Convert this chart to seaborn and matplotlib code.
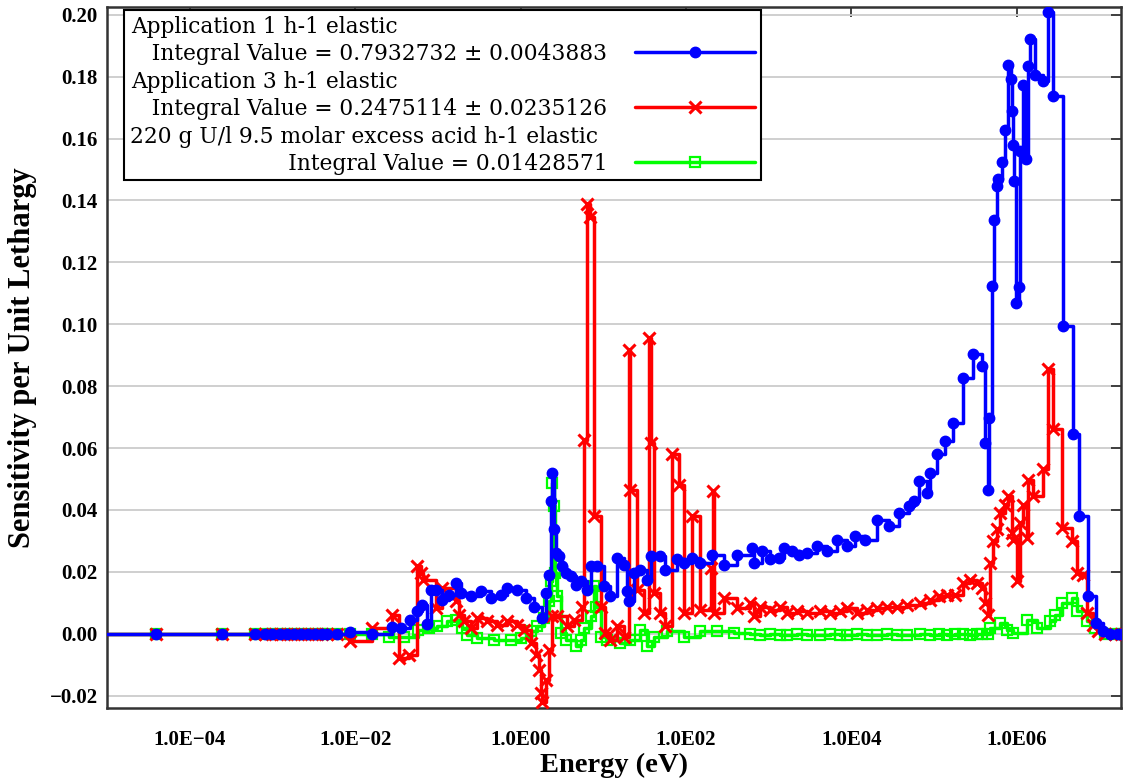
import numpy as np
import pandas as pd
import seaborn as sns
import matplotlib.pyplot as plt
from matplotlib.lines import Line2D
from matplotlib.offsetbox import TextArea
from matplotlib.ticker import NullLocator

# Sensitivity profiles (energy in eV, sensitivity per unit lethargy)
blue_energy = [1e-5, 3.9e-5, 2.45e-4, 6.1e-4, 8.1e-4, 9.8e-4, 1.23e-3, 1.49e-3, 1.81e-3, 2.2e-3,
               2.68e-3, 3.25e-3, 3.95e-3, 4.54e-3, 6.0e-3, 8.6e-3, 1.58e-2, 2.82e-2, 3.56e-2, 4.6e-2,
               5.65e-2, 6.5e-2, 7.47e-2, 8.2e-2, 9.4e-2, 0.113, 0.136, 0.164, 0.188, 0.249,
               0.329, 0.434, 0.573, 0.69, 0.912, 1.15, 1.45, 1.83, 2.0, 2.2,
               2.3, 2.41, 2.52, 2.68, 2.9, 3.19, 3.5, 4.02, 4.62, 5.3,
               6.4, 7.0, 8.4, 10.1, 12.2, 14.7, 17.7, 19.4, 20.3, 23.4,
               28.1, 33.9, 37.2, 49.1, 56.4, 78.1, 93.8, 118.5, 149, 207,
               285, 414, 628, 657, 830, 1045, 1318, 1514, 1910, 2296,
               2899, 3828, 5055, 6677, 8823, 1.11e4, 1.47e4, 2.03e4, 2.81e4, 3.71e4,
               4.9e4, 5.62e4, 6.46e4, 8.16e4, 8.95e4, 1.08e5, 1.36e5, 1.71e5, 2.26e5, 2.98e5,
               3.77e5, 4.13e5, 4.53e5, 4.66e5, 4.98e5, 5.35e5, 5.72e5, 5.98e5, 6.57e5, 7.19e5,
               7.89e5, 8.5e5, 8.67e5, 9.06e5, 9.24e5, 9.77e5, 1.07e6, 1.09e6, 1.2e6, 1.29e6,
               1.38e6, 1.42e6, 1.66e6, 2.09e6, 2.4e6, 2.76e6, 3.58e6, 4.73e6, 5.69e6, 7.3e6,
               9.05e6, 1.11e7, 1.34e7, 1.67e7, 1.8e7]
blue_sens = [0, 0, 0, 0, 0, 0, 0, 0, 0, 0,
             0, 0, 0, 0, 0, 0.0005, 0.0, 0.0022, 0.0018, 0.0045,
             0.0072, 0.0094, 0.003, 0.0142, 0.0142, 0.011, 0.0126, 0.0164, 0.0132, 0.0121,
             0.0137, 0.0116, 0.0126, 0.0148, 0.0142, 0.0116, 0.0088, 0.0051, 0.0132, 0.019,
             0.0428, 0.052, 0.0337, 0.026, 0.025, 0.0218, 0.0196, 0.0185, 0.0159, 0.0169,
             0.0142, 0.0218, 0.0218, 0.0153, 0.0121, 0.0245, 0.0223, 0.0137, 0.0105, 0.0196,
             0.0207, 0.0175, 0.025, 0.025, 0.0207, 0.024, 0.0229, 0.0245, 0.0229, 0.0256,
             0.0223, 0.0256, 0.0277, 0.0229, 0.0267, 0.024, 0.0245, 0.0277, 0.0267, 0.0256,
             0.0261, 0.0283, 0.0267, 0.0304, 0.0283, 0.0315, 0.0304, 0.0369, 0.0347, 0.0391,
             0.0412, 0.0428, 0.0493, 0.0455, 0.052, 0.058, 0.0622, 0.0682, 0.0827, 0.0903,
             0.0865, 0.0617, 0.0466, 0.0698, 0.1124, 0.1338, 0.1448, 0.1469, 0.1525, 0.1629,
             0.1838, 0.1793, 0.169, 0.1579, 0.1464, 0.107, 0.1119, 0.1561, 0.1772, 0.1534,
             0.1836, 0.1922, 0.1804, 0.1787, 0.2009, 0.1739, 0.0995, 0.0644, 0.038, 0.0121,
             0.0035, 0.0008, 0, 0, 0]

red_energy = [1e-5, 3.9e-5, 2.45e-4, 6.1e-4, 8.1e-4, 9.8e-4, 1.23e-3, 1.49e-3, 1.81e-3, 2.2e-3,
              2.68e-3, 3.25e-3, 3.95e-3, 4.54e-3, 6.0e-3, 8.6e-3, 1.58e-2, 2.82e-2, 3.39e-2, 4.48e-2,
              5.55e-2, 6.2e-2, 6.6e-2, 9.4e-2, 0.113, 0.164, 0.18, 0.207, 0.249, 0.3,
              0.396, 0.523, 0.69, 0.912, 1.1, 1.32, 1.52, 1.66, 1.74, 1.83,
              2.0, 2.2, 2.41, 2.77, 3.66, 4.4, 5.56, 5.82, 6.4, 6.81,
              7.68, 9.25, 10.6, 12.2, 14.7, 17.7, 20.3, 21.3, 25.7, 30.8,
              35.4, 37.7, 40.7, 49.1, 56.4, 68, 81.6, 93.8, 118.5, 149,
              200, 209, 216, 285, 414, 600, 657, 792, 1045, 1380,
              1663, 2198, 2899, 4200, 5546, 7325, 8823, 1.165e4, 1.54e4, 2.03e4,
              2.68e4, 3.54e4, 4.68e4, 6.78e4, 8.95e4, 1.13e5, 1.42e5, 1.79e5, 2.26e5, 2.72e5,
              3.28e5, 3.77e5, 4.13e5, 4.53e5, 4.75e5, 5.2e5, 5.72e5, 6.27e5, 7.19e5, 7.89e5,
              8.67e5, 9.06e5, 1.01e6, 1.09e6, 1.2e6, 1.32e6, 1.38e6, 1.58e6, 2.09e6, 2.4e6,
              2.76e6, 3.48e6, 4.6e6, 5.29e6, 6.35e6, 6.98e6, 8.4e6, 9.64e6, 1.16e7, 1.53e7,
              1.8e7]
red_sens = [0, 0, 0, 0, 0, 0, 0, 0, 0, 0,
            0, 0, 0, 0, 0, -0.0025, 0.0017, 0.0061, -0.0079, -0.0068,
            0.0218, 0.0196, 0.0175, 0.0083, 0.0148, 0.0105, 0.0061, 0.004, 0.0018, 0.0051,
            0.004, 0.0029, 0.004, 0.0029, 0.0013, -0.003, -0.0068, -0.0117, -0.0192, -0.0219,
            -0.0149, -0.0052, 0.0056, 0.0056, 0.0024, 0.0045, 0.0088, 0.0625, 0.1388, 0.1346,
            0.038, 0.0088, 0.0002, -0.0019, 0.0024, -0.0009, 0.0916, 0.0466, 0.0142, 0.0067,
            0.0955, 0.0617, 0.0132, 0.0067, 0.0024, 0.058, 0.0482, 0.0067, 0.038, 0.0078,
            0.0213, 0.046, 0.0067, 0.0116, 0.0083, 0.0099, 0.0056, 0.0088, 0.0078, 0.0088,
            0.0067, 0.0072, 0.0067, 0.0072, 0.0067, 0.0072, 0.0083, 0.0067, 0.0078, 0.0083,
            0.0088, 0.0088, 0.0094, 0.0099, 0.011, 0.0121, 0.0126, 0.0126, 0.0164, 0.0175,
            0.0164, 0.0148, 0.0099, 0.0061, 0.0229, 0.0299, 0.0337, 0.0391, 0.0417, 0.0444,
            0.0326, 0.0304, 0.0169, 0.0358, 0.0417, 0.031, 0.0498, 0.0444, 0.0531, 0.0854,
            0.066, 0.0342, 0.0299, 0.0196, 0.0191, 0.0067, 0.0029, 0.0008, 0, 0,
            0]

green_energy = [1e-5, 3.9e-5, 2.45e-4, 6.1e-4, 8.1e-4, 9.8e-4, 1.23e-3, 1.49e-3, 1.81e-3, 2.2e-3,
                2.68e-3, 3.25e-3, 3.95e-3, 4.54e-3, 6.0e-3, 8.6e-3, 1.58e-2, 2.56e-2, 3.9e-2, 5.7e-2,
                7.8e-2, 9.86e-2, 0.13, 0.164, 0.198, 0.227, 0.3, 0.476, 0.756, 1.0,
                1.32, 1.59, 1.91, 2.2, 2.3, 2.41, 2.52, 2.64, 2.77, 3.04,
                3.5, 4.62, 5.3, 5.82, 7.0, 7.68, 8.05, 9.25, 11.1, 16.1,
                21.3, 28.1, 33.9, 40.7, 58.4, 93.8, 149, 237, 376, 600,
                792, 1045, 1380, 1663, 2198, 2899, 4200, 5546, 7325, 8823,
                1.165e4, 1.54e4, 2.03e4, 2.68e4, 3.54e4, 4.68e4, 6.78e4, 8.95e4, 1.13e5, 1.42e5,
                1.79e5, 2.26e5, 2.72e5, 3.28e5, 3.77e5, 4.53e5, 4.75e5, 6.27e5, 7.55e5, 9.06e5,
                1.32e6, 1.74e6, 2.52e6, 2.89e6, 3.48e6, 4.6e6, 5.29e6, 6.98e6, 8.8e6, 1.16e7,
                1.53e7, 1.8e7]
green_sens = [0, 0, 0, 0, 0, 0, 0, 0, 0, 0,
              0, 0, 0, 0, 0, 0, 0, -0.0009, -0.001, 0.0013,
              0.0018, 0.0024, 0.004, 0.0045, 0.0018, -0.0003, -0.0014, -0.0019, -0.0019, -0.0014,
              0.0008, 0.0024, 0.0051, 0.0105, 0.0169, 0.0488, 0.0412, 0.0196, 0.0121, 0.0002,
              -0.0019, -0.0041, -0.0019, 0.0018, 0.0056, 0.0153, 0.0088, -0.0009, -0.0019, -0.003,
              -0.0019, 0.0013, -0.0041, -0.0009, 0.0008, -0.0009, 0.0008, 0.0008, 0.0002, -0.0002,
              -0.0003, -0.0002, -0.0003, -0.0003, -0.0002, -0.0003, -0.0003, -0.0002, -0.0003, -0.0003,
              -0.0002, -0.0003, -0.0003, -0.0002, -0.0003, -0.0003, -0.0002, -0.0003, -0.0002, -0.0003,
              -0.0002, -0.0002, -0.0003, -0.0002, -0.0002, -0.0001, 0.0018, 0.0035, 0.0013, 0.0002,
              0.0045, 0.0018, 0.004, 0.0061, 0.0099, 0.0116, 0.0072, 0.004, 0.0018, 0,
              0, 0]

series_names = ["Application 1 h-1 elastic",
                "Application 3 h-1 elastic",
                "220 g U/l 9.5 molar excess acid h-1 elastic"]
integral_texts = ["Integral Value = 0.7932732 \u00b1 0.0043883",
                  "Integral Value = 0.2475114 \u00b1 0.0235126",
                  "Integral Value = 0.01428571"]
integral_indent = [3, 3, 23]

xtick_values = [1e-4, 1e-2, 1e0, 1e2, 1e4, 1e6]
xtick_labels = ["1.0E\u221204", "1.0E\u221202", "1.0E00", "1.0E02", "1.0E04", "1.0E06"]
ytick_values = [-0.02, 0.0, 0.02, 0.04, 0.06, 0.08, 0.10, 0.12, 0.14, 0.16, 0.18, 0.20]
ytick_labels = ["\u22120.02", "0.00", "0.02", "0.04", "0.06", "0.08", "0.10",
                "0.12", "0.14", "0.16", "0.18", "0.20"]

sns.set_theme(style="white")
plt.rcParams["font.family"] = ["DejaVu Serif"]
plt.rcParams["text.color"] = "black"
plt.rcParams["axes.labelcolor"] = "black"

fig = plt.figure(figsize=(11.23, 7.82), dpi=100)
ax = fig.add_axes([0.0953, 0.0946, 0.9027, 0.8964])

blue = "#0000ff"
red = "#ff0000"
green = "#00ff00"

# green first, blue on top
sns.lineplot(x=green_energy, y=green_sens, ax=ax, estimator=None, sort=False,
             drawstyle="steps-post", color=green, lw=2.5, marker="s", markersize=6.5,
             markerfacecolor="none", markeredgecolor=green, markeredgewidth=1.6,
             markevery=slice(1, None), zorder=2)
sns.lineplot(x=red_energy, y=red_sens, ax=ax, estimator=None, sort=False,
             drawstyle="steps-post", color=red, lw=2.5, marker="x", markersize=8,
             markeredgecolor=red, markeredgewidth=2.2,
             markevery=slice(1, None), zorder=3)
sns.lineplot(x=blue_energy, y=blue_sens, ax=ax, estimator=None, sort=False,
             drawstyle="steps-post", color=blue, lw=2.5, marker="o", markersize=7.5,
             markeredgecolor=blue, markeredgewidth=1.0,
             markevery=slice(1, None), zorder=4)

ax.set_xscale("log")
ax.set_xlim(1e-5, 1.8e7)
ax.set_ylim(-0.024, 0.2025)
ax.set_xticks(xtick_values, labels=xtick_labels)
ax.xaxis.set_minor_locator(NullLocator())
ax.set_yticks(ytick_values, labels=ytick_labels)

ax.grid(axis="y", color="#cccccc", lw=1.3)
ax.set_axisbelow(True)
for s in ax.spines.values():
    s.set_color("#333333")
    s.set_linewidth(1.8)

ax.tick_params(axis="both", direction="in", top=True, right=True, length=7, width=1.3,
               color="#333333", labelcolor="black")
ax.tick_params(axis="x", pad=16)
ax.tick_params(axis="y", pad=6.5)
for lab in ax.get_xticklabels() + ax.get_yticklabels():
    lab.set_fontfamily("Liberation Serif")
    lab.set_fontweight("bold")
    lab.set_fontsize(15)

ax.set_xlabel("Energy (eV)", fontsize=20.5, fontweight="bold", family="Liberation Serif", labelpad=2)
ax.set_ylabel("Sensitivity per Unit Lethargy", fontsize=22, fontweight="bold",
              family="Liberation Serif", labelpad=9)

# legend: name on one line, integral value below it next to the line sample
handles = [
    Line2D([], [], color=blue, lw=2.5, marker="o", markersize=7.5, markeredgecolor=blue),
    Line2D([], [], color=red, lw=2.5, marker="x", markersize=8, markeredgewidth=2.2),
    Line2D([], [], color=green, lw=2.5, marker="s", markersize=6.5, markerfacecolor="none",
           markeredgecolor=green, markeredgewidth=1.6),
]
labels = [f"{n}\n{' ' * k}{t}" for n, t, k in zip(series_names, integral_texts, integral_indent)]
leg = ax.legend(handles, labels, loc="upper left", bbox_to_anchor=(0.0168, 0.9957),
                borderaxespad=0, markerfirst=False, handlelength=5.5, handletextpad=1.3,
                numpoints=1, labelspacing=0.28, borderpad=0.25, fancybox=False, framealpha=1,
                edgecolor="black", prop={"family": "DejaVu Serif", "size": 15.7})
leg.get_frame().set_linewidth(1.5)
for t in leg.get_texts():
    t.set_color("black")
    t.set_linespacing(1.3)
for col in leg._legend_handle_box.get_children():
    for item in col.get_children():
        for ch in item.get_children():
            if isinstance(ch, TextArea):
                ch.set_multilinebaseline(False)

fig.savefig("out.png", dpi=100)
